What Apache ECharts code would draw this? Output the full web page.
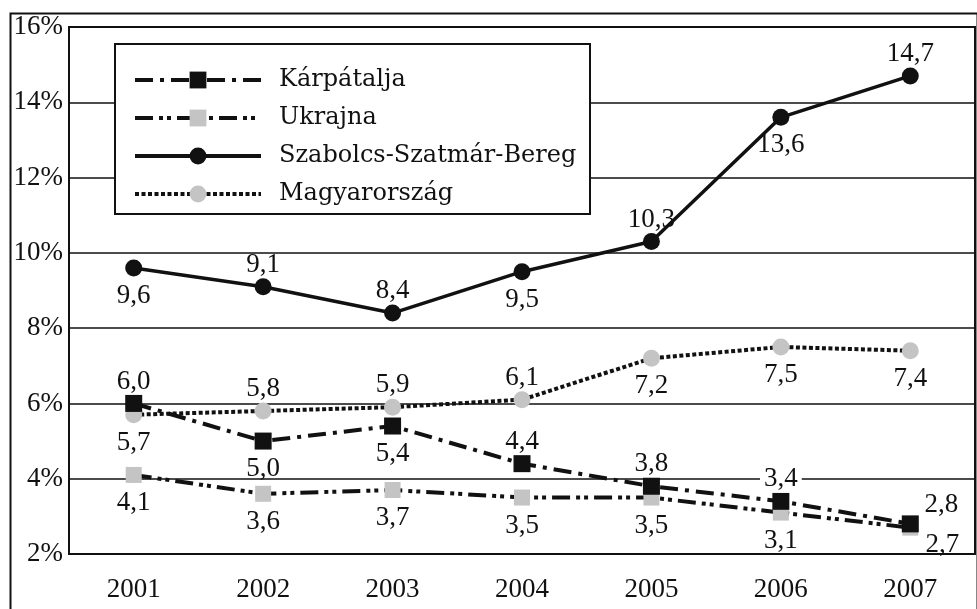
<!DOCTYPE html>
<html>
<head>
<meta charset="utf-8">
<script src="https://cdn.jsdelivr.net/npm/echarts@6/dist/echarts.min.js"></script>
<style>
  html, body { margin: 0; padding: 0; background: #fff; }
  #chart { width: 977px; height: 609px; }
</style>
</head>
<body>
<div id="chart"></div>
<script>
// adatok
var years = ["2001", "2002", "2003", "2004", "2005", "2006", "2007"];
var seriesNames = ["Kárpátalja", "Ukrajna", "Szabolcs-Szatmár-Bereg", "Magyarország"];
var karpatalja = [6.0, 5.0, 5.4, 4.4, 3.8, 3.4, 2.8];
var ukrajna = [4.1, 3.6, 3.7, 3.5, 3.5, 3.1, 2.7];
var szabolcs = [9.6, 9.1, 8.4, 9.5, 10.3, 13.6, 14.7];
var magyarorszag = [5.7, 5.8, 5.9, 6.1, 7.2, 7.5, 7.4];
var yTicks = [2, 4, 6, 8, 10, 12, 14, 16];

// címkék helye (t = fent, b = lent, ne/se = jobbra)
var labelPlace = [
  ["t", "b", "b", "t", "t", "t", "ne"],
  ["b", "b", "b", "b", "b", "b", "se"],
  ["b", "t", "t", "b", "t", "b", "t"],
  ["b", "t", "t", "t", "b", "b", "b"]
];
var offsets = { t: [0, -22], b: [0, 28], ne: [31, -19], se: [32, 17] };

var numFont = "'Liberation Serif', 'Times New Roman', serif";
var fmt = function (v) { return v.toFixed(1).replace(".", ","); };

function makeData(values, places) {
  return values.map(function (v, i) {
    var item = {
      value: v,
      label: { offset: offsets[places[i]] }
    };
    // a 3,4 felirat kitakarja a rácsvonalat
    if (v === 3.4) {
      item.label.backgroundColor = "#fff";
      item.label.padding = [0, 4];
    }
    return item;
  });
}

var baseLabel = {
  show: true,
  position: "inside",
  fontFamily: numFont,
  fontSize: 27,
  color: "#111",
  formatter: function (p) { return fmt(p.value); }
};

var styles = [
  { symbol: "rect", size: 17, color: "#111", line: { width: 4, type: [18, 7, 4, 7] }, z: 5 },
  { symbol: "rect", size: 16, color: "#c4c4c4", line: { width: 4, type: [18, 6, 4, 4, 4, 6] }, z: 3 },
  { symbol: "circle", size: 17, color: "#111", line: { width: 3.5, type: "solid" }, z: 6 },
  { symbol: "circle", size: 17, color: "#c4c4c4", line: { width: 4, type: [4, 2.5] }, z: 2 }
];
var allValues = [karpatalja, ukrajna, szabolcs, magyarorszag];

var series = seriesNames.map(function (name, k) {
  var s = styles[k];
  return {
    name: name,
    type: "line",
    data: makeData(allValues[k], labelPlace[k]),
    symbol: s.symbol,
    symbolSize: s.size,
    z: s.z,
    itemStyle: { color: s.color, opacity: 1 },
    lineStyle: { color: "#111", width: s.line.width, type: s.line.type },
    label: baseLabel,
    emphasis: { disabled: true }
  };
});

var myChart = echarts.init(document.getElementById("chart"));
var option = {
  animation: false,
  backgroundColor: "#fff",
  grid: {
    left: 69, right: 2, top: 27, bottom: 55,
    show: true,
    borderColor: "#111",
    borderWidth: 2
  },
  graphic: [
    // külső keret
    { type: "rect", left: 8, top: 11, z: -1, silent: true,
      shape: { width: 967, height: 640 },
      style: { fill: null, stroke: "#111", lineWidth: 2 } },
    // jelmagyarázat doboza
    { type: "rect", left: 114, top: 43, z: 50, silent: true,
      shape: { width: 475, height: 170 },
      style: { fill: "#fff", stroke: "#111", lineWidth: 2 } }
  ],
  legend: {
    data: seriesNames,
    orient: "vertical",
    left: 128,
    top: 62,
    z: 60,
    itemWidth: 126,
    itemHeight: 21,
    itemGap: 12,
    selectedMode: false,
    lineStyle: { width: 4 },
    textStyle: {
      fontFamily: "'DejaVu Serif', serif",
      fontSize: 24,
      lineHeight: 26,
      color: "#111",
      padding: [0, 0, 0, 13]
    }
  },
  xAxis: {
    type: "category",
    data: years,
    boundaryGap: true,
    axisLine: { show: false },
    axisTick: { show: false },
    axisLabel: { fontFamily: numFont, fontSize: 27, color: "#111", margin: 22 }
  },
  yAxis: {
    type: "value",
    min: yTicks[0],
    max: yTicks[yTicks.length - 1],
    interval: 2,
    axisLine: { show: false },
    axisTick: { show: false },
    splitLine: { lineStyle: { color: "#111", width: 1.5 } },
    axisLabel: {
      fontFamily: numFont, fontSize: 27, color: "#111", margin: 6,
      padding: [6, 0, 0, 0],
      formatter: "{value}%"
    }
  },
  series: series
};
myChart.setOption(option);
</script>
</body>
</html>
